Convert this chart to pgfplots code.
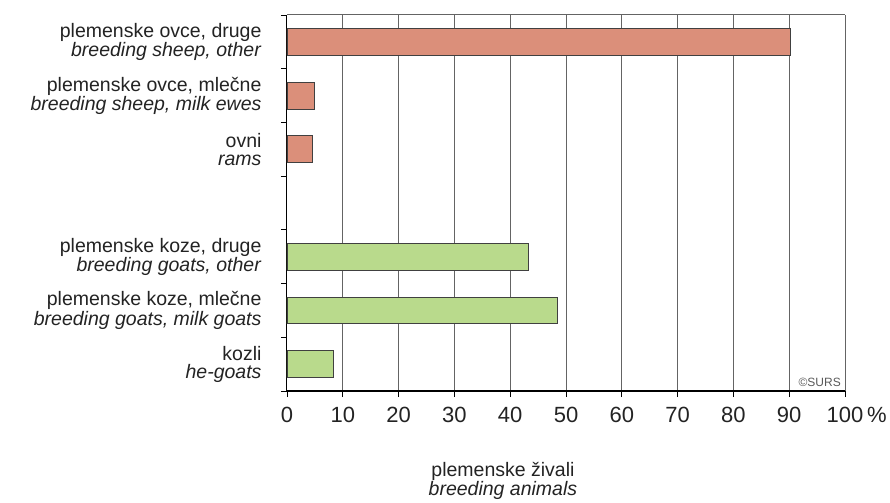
\documentclass[border=0pt]{standalone}
\usepackage{fontspec}
\setmainfont{Liberation Sans}
\usepackage{pgfplots}
\pgfplotsset{compat=1.18}

\definecolor{sheep}{RGB}{219,143,122}
\definecolor{goat}{RGB}{185,218,140}
\definecolor{gridc}{RGB}{100,100,100}
\definecolor{txt}{RGB}{35,35,35}

\begin{document}
\begin{tikzpicture}
\begin{axis}[
    scale only axis,
    width=558pt, height=376pt,
    xbar, bar width=0.5, bar shift=0pt,
    xmin=0, xmax=100, ymin=-0.5, ymax=6.5,
    axis x line=bottom, axis y line=left,
    axis line style={-},
    x axis line style={black, line width=1.2pt},
    y axis line style={black, line width=1pt},
    tick pos=left, tick align=outside,
    major tick length=6pt, minor tick length=6pt,
    tick style={black, line width=0.8pt},
    xtick={0,10,...,100},
    xticklabels={0,10,20,30,40,50,60,70,80,90,{100\rlap{\,\%}}},
    xticklabel style={font=\fontsize{22}{22}\selectfont, text=txt, yshift=-7pt},
    xmajorgrids, grid style={gridc, line width=1pt},
    ytick={0,...,6},
    yticklabels={
        {kozli\\\textit{he-goats}},
        {plemenske koze, mlečne\\\textit{breeding goats, milk goats}},
        {plemenske koze, druge\\\textit{breeding goats, other}},
        {},
        {ovni\\\textit{rams}},
        {plemenske ovce, mlečne\\\textit{breeding sheep, milk ewes}},
        {plemenske ovce, druge\\\textit{breeding sheep, other}}},
    major y tick style={draw=none},
    minor ytick={-0.5,0.5,...,6.5},
    yticklabel style={font=\fontsize{19.5}{18}\selectfont, align=right, text=txt, xshift=-16pt},
    xlabel={plemenske živali\\\textit{breeding animals}},
    xlabel style={at={(rel axis cs:0.387,0)}, anchor=north, yshift=-68pt,
        align=center, font=\fontsize{19.5}{18.5}\selectfont, text=txt},
]
\addplot[draw=black!75, line width=0.8pt, fill=sheep] coordinates {(90.2,6) (5.0,5) (4.6,4)};
\addplot[draw=black!75, line width=0.8pt, fill=goat] coordinates {(43.3,2) (48.4,1) (8.3,0)};
\draw[gridc, line width=1pt] (rel axis cs:0,1) -- (rel axis cs:1,1);
\node[anchor=south east, font=\fontsize{12}{12}\selectfont, text=black!65, inner sep=0pt]
    at ([xshift=-4pt, yshift=4pt]rel axis cs:1,0) {©SURS};
\end{axis}
\path (current axis.south west) ++(-287pt,-108pt) rectangle ++(890pt,499pt);
\end{tikzpicture}
\end{document}
